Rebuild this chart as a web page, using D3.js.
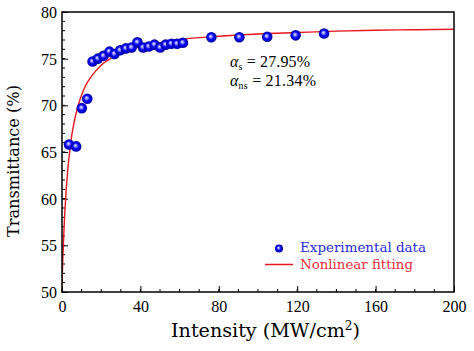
<!DOCTYPE html>
<html><head><meta charset="utf-8">
<script src="https://cdn.jsdelivr.net/npm/d3@7/dist/d3.min.js"></script>
<style>body{margin:0;background:#fff}svg{display:block}</style>
</head><body>
<script>
// Experimental data (Intensity MW/cm^2, Transmittance %)
const expX = [3.6, 7.2, 10.1, 12.9, 15.6, 18.3, 21.2, 24.2, 26.8, 29.7, 32.6, 35.5, 38.5, 41.4, 44.3, 47.2, 50.1, 52.9, 55.8, 58.7, 61.7, 76.2, 90.5, 104.7, 119.2, 133.7];
const expY = [65.8, 65.6, 69.7, 70.7, 74.7, 75.0, 75.3, 75.75, 75.5, 75.9, 76.1, 76.2, 76.75, 76.2, 76.3, 76.5, 76.2, 76.5, 76.6, 76.6, 76.7, 77.3, 77.3, 77.35, 77.5, 77.7];
// Nonlinear fitting curve
const fitX = [0, 0.25, 0.5, 1, 2, 3, 4, 5, 6, 8, 10, 12, 15, 20, 25, 30, 40, 50, 60, 80, 100, 120, 140, 160, 180, 200];
const fitY = [50.7, 52.5, 54.0, 56.65, 60.5, 63.2, 65.2, 66.8, 68.0, 69.8, 71.1, 72.1, 73.1, 74.3, 75.05, 75.6, 76.3, 76.7, 77.05, 77.4, 77.65, 77.8, 77.95, 78.05, 78.1, 78.15];
const xTicks = [0, 40, 80, 120, 160, 200];
const yTicks = [50, 55, 60, 65, 70, 75, 80];
const xMinor = d3.range(0, 201, 10);
const yMinor = d3.range(50, 81, 1);

const SERIF = "Liberation Serif", WIDE = "DejaVu Serif";
const W = 474, H = 351;
const m = {l: 62, r: 20, t: 12, b: 59};
const svg = d3.select("body").append("svg").attr("width", W).attr("height", H);
const x = d3.scaleLinear().domain([0, 200]).range([m.l, W - m.r]);
const y = d3.scaleLinear().domain([50, 80]).range([H - m.b, m.t]);

const defs = svg.append("defs");
const g = defs.append("radialGradient").attr("id", "ball").attr("cx", "50%").attr("cy", "50%").attr("r", "50%").attr("fx", "42%").attr("fy", "40%");
g.append("stop").attr("offset", "0%").attr("stop-color", "#eeeeff");
g.append("stop").attr("offset", "28%").attr("stop-color", "#8080ff");
g.append("stop").attr("offset", "55%").attr("stop-color", "#0000ff");
g.append("stop").attr("offset", "100%").attr("stop-color", "#00009a");
defs.append("clipPath").attr("id", "clip").append("rect")
  .attr("x", m.l).attr("y", m.t).attr("width", W - m.r - m.l).attr("height", H - m.b - m.t);

svg.append("g").selectAll("line").data(xMinor).join("line")
  .attr("x1", d => x(d)).attr("x2", d => x(d)).attr("y1", y(50)).attr("y2", y(50) - 3)
  .attr("stroke", "#000").attr("stroke-width", 1);
svg.append("g").selectAll("line").data(yMinor).join("line")
  .attr("y1", d => y(d)).attr("y2", d => y(d)).attr("x1", x(0)).attr("x2", x(0) + 3)
  .attr("stroke", "#000").attr("stroke-width", 1);

const xa = svg.append("g").attr("transform", `translate(0,${y(50)})`)
  .call(d3.axisBottom(x).tickValues(xTicks).tickSizeInner(-6).tickSizeOuter(0).tickPadding(8));
const ya = svg.append("g").attr("transform", `translate(${x(0)},0)`)
  .call(d3.axisLeft(y).tickValues(yTicks).tickSizeInner(-6).tickSizeOuter(0).tickPadding(5));
[xa, ya].forEach(a => {
  a.attr("font-family", SERIF).attr("font-size", 16);
  a.select(".domain").remove();
  a.selectAll("text").attr("fill", "#000");
  a.selectAll("line").attr("stroke", "#000");
});
xa.selectAll("text").attr("dy", "0.72em");
ya.selectAll("text").attr("dy", "0.34em");

const line = d3.line().x((d, i) => x(fitX[i])).y(d => y(d)).curve(d3.curveMonotoneX);
svg.append("path").datum(fitY).attr("d", line).attr("fill", "none")
  .attr("stroke", "#e8141e").attr("stroke-width", 1.4).attr("clip-path", "url(#clip)");

svg.append("g").selectAll("circle").data(expY).join("circle")
  .attr("cx", (d, i) => x(expX[i])).attr("cy", d => y(d)).attr("r", 5.3)
  .attr("fill", "url(#ball)");

svg.append("rect").attr("x", m.l).attr("y", m.t).attr("width", W - m.r - m.l).attr("height", H - m.b - m.t)
  .attr("fill", "none").attr("stroke", "#000").attr("stroke-width", 1.5);

function alpha(yy, sub, val, len) {
  const t = svg.append("text").attr("x", 230).attr("y", yy).attr("font-family", SERIF).attr("font-size", 16).attr("fill", "#000")
    .attr("textLength", len).attr("lengthAdjust", "spacing");
  t.append("tspan").attr("font-style", "italic").text("α");
  t.append("tspan").attr("font-size", 10).attr("dy", 3).text(sub);
  t.append("tspan").attr("dy", -3).text(" = " + val);
}
alpha(67, "s", "27.95%", 80);
alpha(86, "ns", "21.34%", 86);

svg.append("circle").attr("cx", 279).attr("cy", 248.5).attr("r", 4).attr("fill", "url(#ball)");
svg.append("text").attr("x", 300).attr("y", 252).attr("font-family", WIDE).attr("font-size", 13.5).attr("fill", "#2b2bdc")
  .attr("textLength", 126).attr("lengthAdjust", "spacingAndGlyphs").text("Experimental data");
svg.append("line").attr("x1", 265).attr("x2", 293).attr("y1", 264.5).attr("y2", 264.5)
  .attr("stroke", "#e8141e").attr("stroke-width", 1.5);
svg.append("text").attr("x", 300).attr("y", 269).attr("font-family", WIDE).attr("font-size", 13.5).attr("fill", "#e83038")
  .attr("textLength", 113).attr("lengthAdjust", "spacingAndGlyphs").text("Nonlinear fitting");

const xt = svg.append("text").attr("x", 171).attr("y", 337).attr("font-family", WIDE).attr("font-size", 19).attr("fill", "#000")
  .attr("textLength", 189).attr("lengthAdjust", "spacingAndGlyphs");
xt.append("tspan").text("Intensity (MW/cm");
xt.append("tspan").attr("font-size", 12).attr("dy", -7).text("2");
xt.append("tspan").attr("dy", 7).text(")");
svg.append("text").attr("transform", "translate(19,161) rotate(-90)").attr("text-anchor", "middle")
  .attr("font-family", WIDE).attr("font-size", 17.5).attr("fill", "#000")
  .attr("textLength", 152).attr("lengthAdjust", "spacingAndGlyphs")
  .text("Transmittance (%)");
</script>
</body></html>
